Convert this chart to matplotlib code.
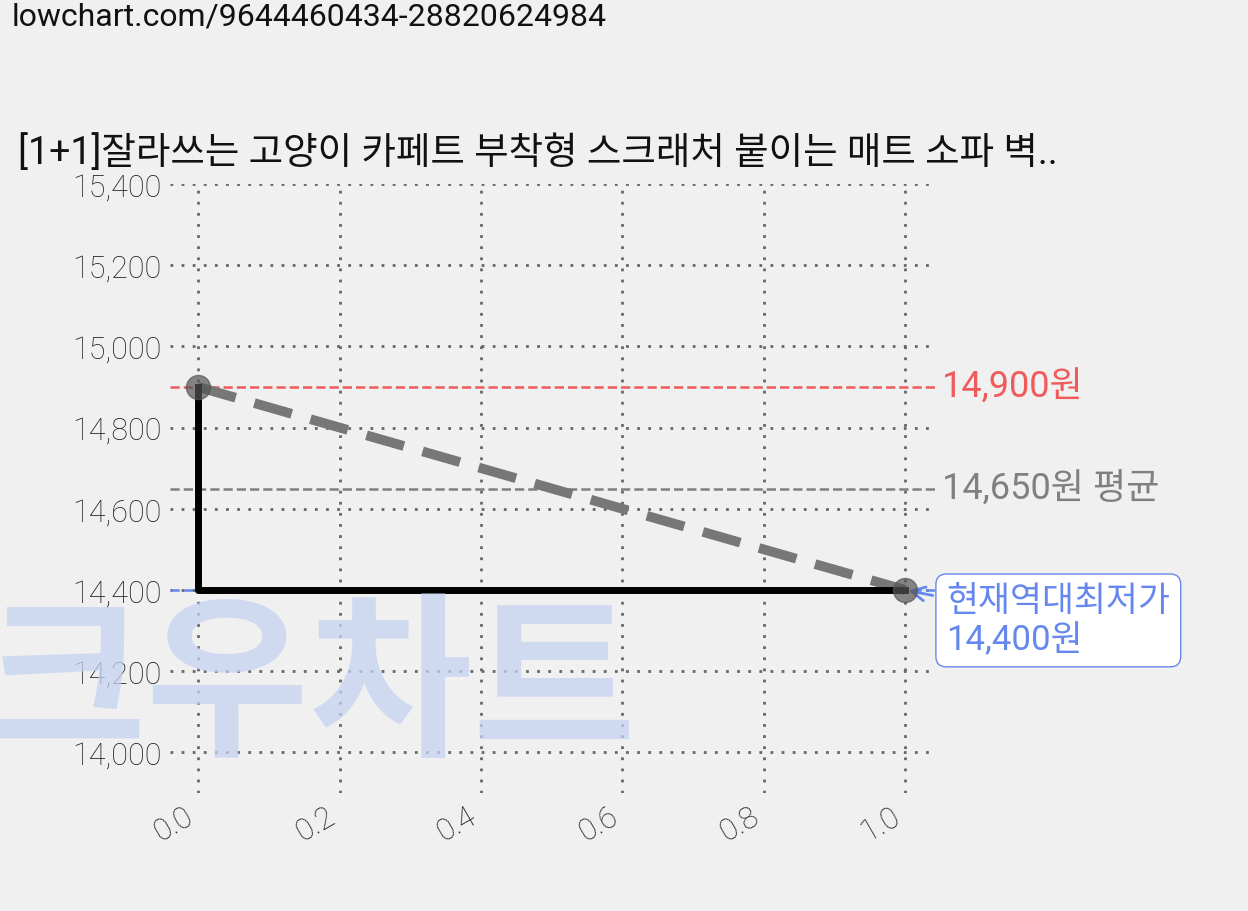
import matplotlib
matplotlib.use("Agg")
import matplotlib.pyplot as plt

plt.rcParams['font.family'] = ['Roboto', 'Noto Sans CJK KR', 'DejaVu Sans']

x_vals = [0.0, 1.0]
prices = [14900, 14400]
max_price = 14900
avg_price = 14650
min_price = 14400
title = "[1+1]잘라쓰는 고양이 카페트 부착형 스크래처 붙이는 매트 소파 벽.."
url = "lowchart.com/9644460434-28820624984"

fig = plt.figure(figsize=(12.48, 9.12), dpi=100, facecolor='#f0f0f0')
ax = fig.add_axes([170/1248, 1-794/912, (935-170)/1248, (794-185)/912])
ax.set_facecolor('#f0f0f0')
for s in ax.spines.values():
    s.set_visible(False)

ax.set_xlim(-0.04, 1.042)
ax.set_ylim(13900, 15400)
ax.set_yticks([14000, 14200, 14400, 14600, 14800, 15000, 15200, 15400])
ax.set_yticklabels([f"{v:,}" for v in ax.get_yticks().astype(int)], fontweight='light')
ax.set_xticks([0, 0.2, 0.4, 0.6, 0.8, 1.0])
ax.set_xticklabels(["0.0", "0.2", "0.4", "0.6", "0.8", "1.0"], rotation=30, ha='right', fontweight='light')
ax.tick_params(labelsize=22, length=0, colors='#222222', pad=6)
ax.grid(True, linestyle=(0, (1, 3)), color='#666666', linewidth=2)

fig.text(310/1248, 1-690/912, "크우차트", fontsize=128, fontweight='bold', color='#c5d3f2',
         alpha=0.75, family=['Noto Sans CJK KR'], ha='center', va='center', zorder=0)

ax.axhline(max_price, color='#f05a5a', linestyle='--', linewidth=1.8)
ax.axhline(avg_price, color='#808080', linestyle='--', linewidth=1.8)
ax.axhline(min_price, color='#6688ee', linestyle='--', linewidth=1.8)

ax.plot(x_vals, prices, color='#777777', linestyle=(0, (4, 2)), linewidth=7, zorder=3)
ax.plot([x_vals[0], x_vals[0], x_vals[1]], [prices[0], min_price, min_price], color='black', linewidth=5, zorder=4)
ax.scatter(x_vals, prices, s=300, color='#555555', alpha=0.7, zorder=5)

ax.text(1.052, max_price, f"{max_price:,}원", color='#f05a5a', fontsize=26, va='center', clip_on=False)
ax.text(1.052, avg_price, f"{avg_price:,}원 평균", color='#808080', fontsize=26, va='center', clip_on=False)
ax.annotate(f"현재역대최저가\n{min_price:,}원", xy=(1.0, min_price), xytext=(1.058, min_price - 75),
            color='#6688ee', fontsize=25, va='center', ha='left', annotation_clip=False,
            bbox=dict(boxstyle='round,pad=0.3', fc='white', ec='#6688ee'),
            arrowprops=dict(arrowstyle='->', color='#6688ee', lw=2))

fig.text(18/1248, 1-153/912, title, fontsize=27, color='#111111', va='center')
fig.text(12/1248, 1-17/912, url, fontsize=23, color='#111111', va='center')

fig.savefig("out.png", dpi=100, facecolor=fig.get_facecolor())
